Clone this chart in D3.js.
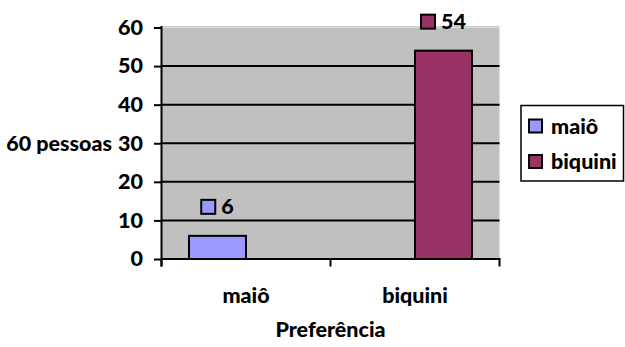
<!DOCTYPE html>
<html>
<head>
<meta charset="utf-8">
<script src="https://cdn.jsdelivr.net/npm/d3@7"></script>
<style>
  html, body { margin: 0; padding: 0; background: #ffffff; }
  svg { display: block; font-family: Lato, "Open Sans", sans-serif; font-weight: 900; }
</style>
</head>
<body>
<svg id="chart" width="625" height="347"></svg>
<script>
// Categories on the x axis and the two series plotted against them
const categories = ["maiô", "biquini"];
const seriesNames = ["maiô", "biquini"];
const maioValues = [6, null];
const biquiniValues = [null, 54];
const yTicks = [0, 10, 20, 30, 40, 50, 60];
const seriesColors = ["#9999ff", "#993366"];

const yTitle = "60 pessoas";
const xTitle = "Preferência";

const svg = d3.select("#chart");
const fontSize = 21.5;

const plot = { left: 161.5, right: 499.5, top: 27.5, bottom: 259 };

const x = d3.scaleBand().domain(categories).range([plot.left, plot.right]).paddingInner(0).paddingOuter(0);
const xs = d3.scaleBand().domain(seriesNames).range([0, x.bandwidth()]).paddingInner(0).paddingOuter(0.482);
const y = d3.scaleLinear().domain([0, 60]).range([plot.bottom, plot.top]);

const seriesData = [maioValues, biquiniValues].map((vals, i) => ({
  name: seriesNames[i],
  color: seriesColors[i],
  values: vals.map((v, j) => ({ cat: categories[j], value: v }))
}));

// Plot area background
svg.append("rect")
  .attr("x", plot.left).attr("y", y(60))
  .attr("width", plot.right - plot.left).attr("height", y(0) - y(60))
  .attr("fill", "#c0c0c0");

// Gridlines
svg.append("g").selectAll("line")
  .data(yTicks.filter(t => t > 0))
  .join("line")
  .attr("x1", plot.left).attr("x2", plot.right)
  .attr("y1", d => d === 60 ? y(d) - 1 : y(d)).attr("y2", d => d === 60 ? y(d) - 1 : y(d))
  .attr("stroke", d => d === 60 ? "#c8c8c8" : "#000")
  .attr("stroke-width", d => d === 60 ? 1 : 2);

// Bars
const groups = svg.append("g").selectAll("g")
  .data(seriesData).join("g");

groups.selectAll("rect")
  .data(s => s.values.filter(d => d.value != null).map(d => ({ ...d, series: s.name, color: s.color })))
  .join("rect")
  .attr("x", d => x(d.cat) + xs(d.series))
  .attr("y", d => y(d.value))
  .attr("width", xs.bandwidth())
  .attr("height", d => y(0) - y(d.value))
  .attr("fill", d => d.color)
  .attr("stroke", "#000")
  .attr("stroke-width", 2);

// Y axis
const yAxis = d3.axisLeft(y).tickValues(yTicks).tickSize(7.5).tickPadding(11);
const gy = svg.append("g").attr("transform", `translate(${plot.left},0)`).call(yAxis);
gy.select(".domain").remove();
gy.append("line").attr("x1", 0).attr("x2", 0).attr("y1", y(60) - 1.5).attr("y2", plot.bottom + 7.5)
  .attr("stroke", "#000").attr("stroke-width", 2);
gy.selectAll(".tick line").attr("stroke", "#000").attr("stroke-width", 2);
gy.selectAll(".tick text").attr("fill", "#000").style("font-size", fontSize + "px")
  .style("font-family", "Lato, sans-serif").style("font-weight", 900);

// X axis
const gx = svg.append("g").attr("transform", `translate(0,${plot.bottom})`);
gx.append("line").attr("x1", plot.left).attr("x2", plot.right + 1).attr("y1", 0).attr("y2", 0)
  .attr("stroke", "#000").attr("stroke-width", 2);
const xTickPos = categories.map(c => x(c)).concat([x(categories[categories.length - 1]) + x.bandwidth()]);
gx.selectAll("line.tk").data(xTickPos).join("line").attr("class", "tk")
  .attr("x1", d => d).attr("x2", d => d).attr("y1", 0).attr("y2", 7.5)
  .attr("stroke", "#000").attr("stroke-width", 2);
gx.selectAll("text").data(categories).join("text")
  .attr("x", d => x(d) + x.bandwidth() / 2)
  .attr("y", 44)
  .attr("text-anchor", "middle")
  .style("font-size", fontSize + "px")
  .text(d => d);

// Axis titles
svg.append("text").attr("x", 112).attr("y", y(30)).attr("dy", "0.35em")
  .attr("text-anchor", "end").style("font-size", fontSize + "px").text(yTitle);
svg.append("text").attr("x", (plot.left + plot.right) / 2).attr("y", 337)
  .attr("text-anchor", "middle").style("font-size", fontSize + "px").text(xTitle);

// Value labels with legend key
const labelData = seriesData.flatMap(s => s.values.filter(d => d.value != null)
  .map(d => ({ ...d, series: s.name, color: s.color })));
const lab = svg.append("g").selectAll("g").data(labelData).join("g")
  .attr("transform", d => `translate(${x(d.cat) + xs(d.series) + xs.bandwidth() / 2},${y(d.value) - 29})`);
lab.each(function(d) {
  const g = d3.select(this);
  const t = g.append("text").attr("dy", "0.35em").style("font-size", fontSize + "px").text(d.value);
  const tw = t.node().getComputedTextLength();
  const sq = 14, gap = 6;
  const total = sq + gap + tw;
  g.append("rect").attr("x", -total / 2).attr("y", -sq / 2).attr("width", sq).attr("height", sq)
    .attr("fill", d.color).attr("stroke", "#000").attr("stroke-width", 2);
  t.attr("x", -total / 2 + sq + gap);
});

// Legend
const legend = svg.append("g");
legend.append("rect").attr("x", 521).attr("y", 105.5).attr("width", 102.5).attr("height", 75.5)
  .attr("fill", "#fff").attr("stroke", "#000").attr("stroke-width", 1.5);
const li = legend.selectAll("g").data(seriesData).join("g")
  .attr("transform", (d, i) => `translate(529,${126 + i * 35.5})`);
li.append("rect").attr("x", 0).attr("y", -6.5).attr("width", 13).attr("height", 13)
  .attr("fill", d => d.color).attr("stroke", "#000").attr("stroke-width", 2);
li.append("text").attr("x", 22).attr("dy", "0.35em").style("font-size", fontSize + "px").text(d => d.name);
</script>
</body>
</html>
